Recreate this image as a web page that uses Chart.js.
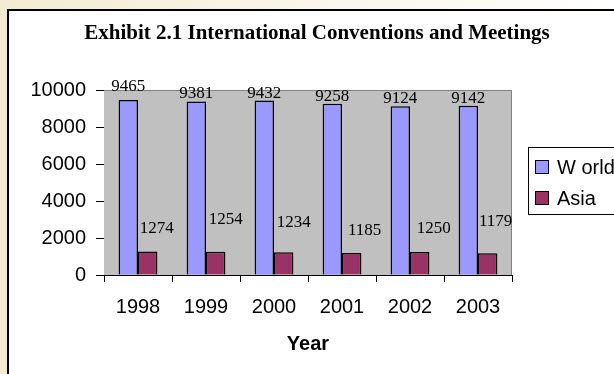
<!DOCTYPE html>
<html>
<head>
<meta charset="utf-8">
<script src="https://cdn.jsdelivr.net/npm/chart.js@4.4.0/dist/chart.umd.min.js"></script>
<style>
  html, body { margin: 0; padding: 0; }
  body {
    width: 614px; height: 374px; overflow: hidden;
    background: linear-gradient(90deg, #f3ecd2 0%, #f8f3e2 35%, #ffffff 100%);
    position: relative;
  }
  #frame {
    position: absolute; left: 7px; top: 9px; width: 620px; height: 380px;
    border-left: 2px solid #000; border-top: 2px solid #000;
    background: #fff;
  }
  #chart { position: absolute; left: 0; top: 0; }
</style>
</head>
<body>
<div id="frame"><canvas id="chart" width="605" height="363"></canvas></div>
<script>
const chartTitle = 'Exhibit 2.1 International Conventions and Meetings';
const years = ['1998', '1999', '2000', '2001', '2002', '2003'];
const world = [9465, 9381, 9432, 9258, 9124, 9142];
const asia = [1274, 1254, 1234, 1185, 1250, 1179];
const yTicks = [0, 2000, 4000, 6000, 8000, 10000];

// label nudges, Excel put them a bit all over the place
const worldLabelDy = [-6, 0, 0, 0, 0, 0];
const asiaLabelDx = [9, 10, 10, 13, 14, 8];
const asiaLabelDy = [-23, -32, -30, -23, -23, -32];

const SANS = 'Arial, "Liberation Sans", sans-serif';
const SERIF = '"Times New Roman", "Liberation Serif", serif';

const plotBg = {
    id: 'plotBg',
    beforeDatasetsDraw(chart) {
        const { ctx, chartArea: a } = chart;
        ctx.save();
        ctx.fillStyle = '#c0c0c0';
        ctx.fillRect(a.left, a.top, a.right - a.left, a.bottom - a.top);
        ctx.strokeStyle = '#808080';
        ctx.lineWidth = 1;
        ctx.beginPath();
        ctx.moveTo(a.left, a.top + 0.5);
        ctx.lineTo(a.right - 0.5, a.top + 0.5);
        ctx.lineTo(a.right - 0.5, a.bottom);
        ctx.stroke();
        ctx.restore();
    }
};

const valueLabels = {
    id: 'valueLabels',
    afterDatasetsDraw(chart) {
        const ctx = chart.ctx;
        ctx.save();
        ctx.font = '17px ' + SERIF;
        ctx.fillStyle = '#000';
        ctx.textAlign = 'center';
        chart.getDatasetMeta(0).data.forEach((bar, i) => {
            ctx.textBaseline = 'alphabetic';
            ctx.fillText(String(world[i]), bar.x, bar.y - 3 + worldLabelDy[i]);
        });
        chart.getDatasetMeta(1).data.forEach((bar, i) => {
            ctx.textBaseline = 'middle';
            ctx.fillText(String(asia[i]), bar.x + asiaLabelDx[i], bar.y + asiaLabelDy[i]);
        });
        ctx.restore();
    }
};

// title centred on the whole sheet, not the plot
const sheetTitle = {
    id: 'sheetTitle',
    afterDraw(chart) {
        const ctx = chart.ctx;
        ctx.save();
        ctx.font = 'bold 21px ' + SERIF;
        ctx.fillStyle = '#000';
        ctx.textAlign = 'center';
        ctx.textBaseline = 'middle';
        ctx.fillText(chartTitle, 308, 23);
        ctx.restore();
    }
};

const boxLegend = {
    id: 'boxLegend',
    afterDraw(chart) {
        const ctx = chart.ctx;
        const x = 519, y = 136, w = 100, h = 67;
        ctx.save();
        ctx.strokeStyle = '#000';
        ctx.lineWidth = 1;
        ctx.strokeRect(x + 0.5, y + 0.5, w, h);
        ctx.font = '20px ' + SANS;
        ctx.textBaseline = 'middle';
        chart.data.datasets.forEach((ds, i) => {
            const cy = y + 20 + i * 31;
            ctx.fillStyle = ds.backgroundColor;
            ctx.fillRect(x + 7.5, cy - 6.5, 13, 13);
            ctx.strokeStyle = '#000';
            ctx.strokeRect(x + 7.5, cy - 6.5, 13, 13);
            ctx.fillStyle = '#000';
            ctx.fillText(ds.label, x + 29, cy + 1);
        });
        ctx.restore();
    }
};

new Chart(document.getElementById('chart'), {
    type: 'bar',
    data: {
        labels: years,
        datasets: [
            {
                label: 'W orld',
                data: world,
                backgroundColor: '#9999ff',
                borderColor: '#000',
                borderWidth: 1.5
            },
            {
                label: 'Asia',
                data: asia,
                backgroundColor: '#993366',
                borderColor: '#000',
                borderWidth: 1.5
            }
        ]
    },
    options: {
        responsive: false,
        animation: false,
        categoryPercentage: 0.57,
        barPercentage: 1.0,
        layout: { padding: { left: 0, right: 102, top: 79, bottom: 0 } },
        scales: {
            x: {
                grid: {
                    display: true,
                    drawOnChartArea: false,
                    drawTicks: true,
                    tickLength: 7,
                    color: '#000',
                    offset: true
                },
                border: { display: true, color: '#000', width: 1 },
                ticks: {
                    color: '#000',
                    font: { family: SANS, size: 20 },
                    padding: 13,
                    maxRotation: 0
                },
                title: {
                    display: true,
                    text: 'Year',
                    color: '#000',
                    font: { family: SANS, size: 20, weight: 'bold' },
                    padding: { top: 4, bottom: 18 }
                },
                afterFit: s => { s.height = 99; }
            },
            y: {
                min: 0,
                max: 10000,
                afterBuildTicks: s => { s.ticks = yTicks.map(v => ({ value: v })); },
                grid: {
                    display: true,
                    drawOnChartArea: false,
                    drawTicks: true,
                    tickLength: 8,
                    color: '#000'
                },
                border: { display: true, color: '#000', width: 1 },
                ticks: {
                    color: '#000',
                    font: { family: SANS, size: 20 },
                    padding: 10,
                    callback: v => String(v)
                },
                afterFit: s => { s.width = 95; }
            }
        },
        plugins: {
            legend: { display: false },
            tooltip: { enabled: false },
            title: { display: false }
        }
    },
    plugins: [plotBg, valueLabels, sheetTitle, boxLegend]
});
</script>
</body>
</html>
